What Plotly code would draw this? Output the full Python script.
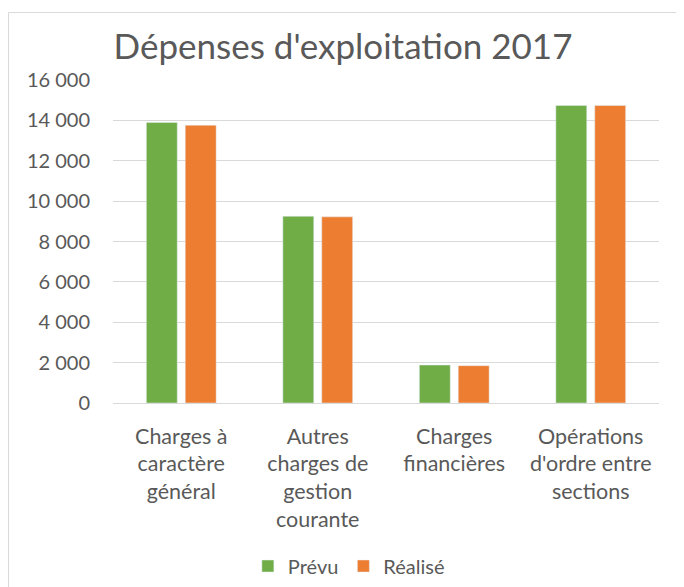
import plotly.graph_objects as go

categories = ["Charges à<br>caractère<br>général", "Autres<br>charges de<br>gestion<br>courante",
              "Charges<br>financières", "Opérations<br>d'ordre entre<br>sections"]
prevu = [13900, 9250, 1880, 14740]
realise = [13760, 9220, 1850, 14740]
tick_vals = [0, 2000, 4000, 6000, 8000, 10000, 12000, 14000, 16000]
tick_text = ["0", "2 000", "4 000", "6 000", "8 000", "10 000", "12 000", "14 000", "16 000"]

FONT = "Lato"
GREY = "#595959"
W, H = 676, 579

fig = go.Figure()
fig.add_trace(go.Bar(name="Prévu", x=categories, y=prevu, marker_color="#70AD47"))
fig.add_trace(go.Bar(name="Réalisé", x=categories, y=realise, marker_color="#ED7D31"))

fig.update_layout(
    width=W, height=H,
    margin=dict(l=105, r=25, t=72, b=184, autoexpand=False),
    paper_bgcolor="white", plot_bgcolor="white",
    font=dict(family=FONT, color=GREY, size=20),
    title=dict(text="Dépenses d'exploitation 2017", x=335 / W, xanchor="center",
               yref="container", y=1 - 39 / H, yanchor="middle",
               font=dict(size=35, color=GREY, family=FONT)),
    barmode="group", bargap=0.43, bargroupgap=0.205,
    showlegend=True,
    legend=dict(orientation="h", x=0.432, xanchor="center", yref="container", y=1 - 558 / H,
                yanchor="middle", font=dict(size=20, color=GREY), traceorder="normal"),
    xaxis=dict(showgrid=False, showline=False, ticks="", automargin=False,
               tickfont=dict(size=21.5, color=GREY), ticklabelstandoff=18),
    yaxis=dict(range=[0, 16000], tickvals=tick_vals, ticktext=tick_text, showgrid=True,
               gridcolor="#D9D9D9", gridwidth=1, zeroline=True, zerolinecolor="#D9D9D9",
               zerolinewidth=1, showline=False, ticks="", automargin=False,
               tickfont=dict(size=20, color=GREY), ticklabelstandoff=22),
    shapes=[dict(type="rect", xref="paper", yref="paper", x0=-0.1914, x1=1.09, y0=-0.635, y1=1.209,
                 line=dict(color="#D9D9D9", width=1), fillcolor="rgba(0,0,0,0)", layer="below")],
)
fig.write_html("out.html")
